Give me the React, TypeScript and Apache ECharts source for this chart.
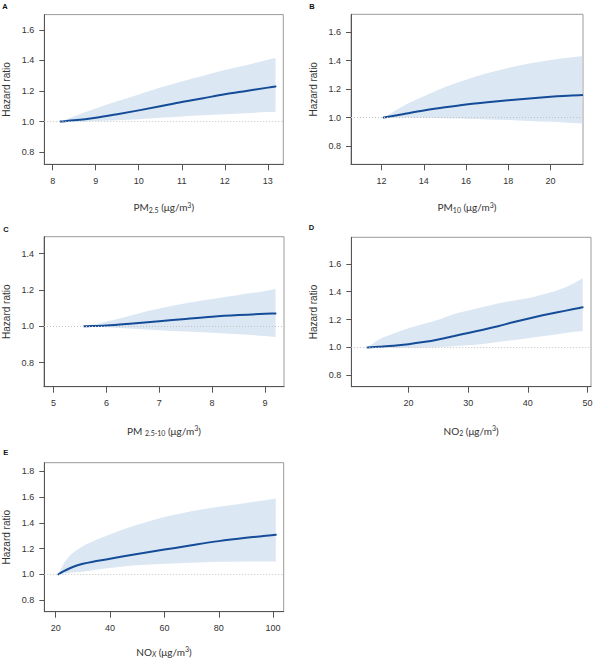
import React, { useEffect, useRef } from "react";
import * as echarts from "echarts";

// Panel A — PM2.5
const pm25X = [8.18, 8.5, 9, 9.5, 10, 10.5, 11, 11.5, 12, 12.5, 13, 13.18];
const pm25Hr = [1.0, 1.008, 1.025, 1.048, 1.073, 1.1, 1.128, 1.153, 1.178, 1.2, 1.222, 1.23];
const pm25Lo = [1.0, 1.001, 1.003, 1.008, 1.015, 1.024, 1.033, 1.041, 1.048, 1.055, 1.062, 1.064];
const pm25Hi = [1.0, 1.035, 1.085, 1.132, 1.177, 1.222, 1.262, 1.3, 1.337, 1.368, 1.405, 1.416];
const pm25XTicks = [8, 9, 10, 11, 12, 13];
const pm25YTicks = [0.8, 1.0, 1.2, 1.4, 1.6];

// Panel B — PM10
const pm10X = [12.1, 13, 14, 15, 16, 17, 18, 19, 20, 21, 21.5];
const pm10Hr = [1.0, 1.024, 1.05, 1.072, 1.092, 1.108, 1.122, 1.135, 1.146, 1.155, 1.158];
const pm10Lo = [1.0, 0.999, 0.998, 0.995, 0.991, 0.987, 0.982, 0.976, 0.97, 0.962, 0.958];
const pm10Hi = [1.0, 1.08, 1.15, 1.215, 1.267, 1.312, 1.349, 1.38, 1.406, 1.425, 1.434];
const pm10XTicks = [12, 14, 16, 18, 20];
const pm10YTicks = [0.8, 1.0, 1.2, 1.4, 1.6];

// Panel C — PM2.5-10
const pmcX = [5.58, 6, 6.5, 7, 7.5, 8, 8.5, 9, 9.2];
const pmcHr = [1.0, 1.005, 1.016, 1.028, 1.041, 1.053, 1.062, 1.069, 1.071];
const pmcLo = [1.0, 0.995, 0.987, 0.979, 0.972, 0.965, 0.957, 0.947, 0.942];
const pmcHi = [1.0, 1.025, 1.063, 1.098, 1.127, 1.15, 1.172, 1.195, 1.205];
const pmcXTicks = [5, 6, 7, 8, 9];
const pmcYTicks = [0.8, 1.0, 1.2, 1.4];

// Panel D — NO2
const no2X = [13.1, 15, 17.5, 20, 22.5, 25, 27.5, 30, 32.5, 35, 37.5, 40, 42.5, 45, 47.5, 49.2];
const no2Hr = [1.0, 1.005, 1.012, 1.023, 1.038, 1.057, 1.08, 1.104, 1.127, 1.152, 1.18, 1.206, 1.23, 1.252, 1.273, 1.288];
const no2Lo = [1.0, 0.999, 0.998, 0.998, 1.0, 1.003, 1.008, 1.015, 1.024, 1.038, 1.052, 1.066, 1.08, 1.095, 1.11, 1.118];
const no2Hi = [1.0, 1.055, 1.1, 1.137, 1.168, 1.198, 1.238, 1.265, 1.29, 1.315, 1.335, 1.352, 1.38, 1.41, 1.455, 1.497];
const no2XTicks = [20, 30, 40, 50];
const no2YTicks = [0.8, 1.0, 1.2, 1.4, 1.6];

// Panel E — NOx
const noxX = [21, 23, 25, 27.5, 30, 35, 40, 45, 50, 60, 70, 80, 90, 101];
const noxHr = [1.0, 1.025, 1.045, 1.066, 1.082, 1.103, 1.121, 1.14, 1.158, 1.192, 1.226, 1.258, 1.284, 1.308];
const noxLo = [1.0, 1.005, 1.01, 1.015, 1.02, 1.035, 1.048, 1.06, 1.07, 1.082, 1.09, 1.097, 1.1, 1.1];
const noxHi = [1.0, 1.085, 1.14, 1.185, 1.218, 1.268, 1.31, 1.35, 1.385, 1.445, 1.49, 1.525, 1.555, 1.59];
const noxXTicks = [20, 40, 60, 80, 100];
const noxYTicks = [0.8, 1.0, 1.2, 1.4, 1.6, 1.8];

const panels = [
  { letter: "A", x: pm25X, hr: pm25Hr, lo: pm25Lo, hi: pm25Hi, xTicks: pm25XTicks, yTicks: pm25YTicks,
    xName: "{t|PM}{sub|2.5}{t| (μg/m}{sup|3}{t|)}", xMin: 7.805, xMax: 13.36, yMin: 0.72, yMax: 1.7 },
  { letter: "B", x: pm10X, hr: pm10Hr, lo: pm10Lo, hi: pm10Hi, xTicks: pm10XTicks, yTicks: pm10YTicks,
    xName: "{t|PM}{sub|10}{t| (μg/m}{sup|3}{t|)}", xMin: 10.55, xMax: 21.54, yMin: 0.671, yMax: 1.727 },
  { letter: "C", x: pmcX, hr: pmcHr, lo: pmcLo, hi: pmcHi, xTicks: pmcXTicks, yTicks: pmcYTicks,
    xName: "{t|PM }{sub|2.5-10}{t| (μg/m}{sup|3}{t|)}", xMin: 4.82, xMax: 9.36, yMin: 0.668, yMax: 1.493 },
  { letter: "D", x: no2X, hr: no2Hr, lo: no2Lo, hi: no2Hi, xTicks: no2XTicks, yTicks: no2YTicks,
    xName: "{t|NO}{sub|2}{t| (μg/m}{sup|3}{t|)}", xMin: 10.4, xMax: 50.6, yMin: 0.718, yMax: 1.79 },
  { letter: "E", x: noxX, hr: noxHr, lo: noxLo, hi: noxHi, xTicks: noxXTicks, yTicks: noxYTicks,
    xName: "{t|NO}{subi|X}{t| (μg/m}{sup|3}{t|)}", xMin: 15.8, xMax: 103.9, yMin: 0.709, yMax: 1.868 },
];

// Plot frames in page pixels
const frames = [
  { left: 44.3, top: 14.6, width: 239, height: 149.7, nameGap: 37 },
  { left: 351, top: 14.3, width: 232, height: 150, nameGap: 37 },
  { left: 44, top: 236.7, width: 240, height: 150, nameGap: 38 },
  { left: 351.3, top: 237.3, width: 239.7, height: 149.4, nameGap: 38 },
  { left: 44.3, top: 462.7, width: 239.4, height: 149, nameGap: 34 },
];
const letterPos = [
  { left: 2.3, top: 2.2 },
  { left: 309.3, top: 2.2 },
  { left: 3.3, top: 225 },
  { left: 308.7, top: 223.7 },
  { left: 3.3, top: 448 },
];

const LINE = "#144c98";
const BAND = "#dce7f4";
const TEXT = "#333333";
const TICK_FONT = "Liberation Sans";
const NAME_FONT = "Lato";

const nameRich = {
  t: { fontSize: 10, fontFamily: NAME_FONT, color: TEXT, lineHeight: 12 },
  sub: { fontSize: 7, fontFamily: NAME_FONT, color: TEXT, verticalAlign: "bottom" },
  subi: { fontSize: 7, fontFamily: NAME_FONT, color: TEXT, fontStyle: "italic", verticalAlign: "bottom" },
  sup: { fontSize: 7, fontFamily: NAME_FONT, color: TEXT, verticalAlign: "top" },
};

// Cubic Hermite segments through pixel points (x ordered), returned as path commands
function hermiteSegments(pts: number[][]): string {
  const n = pts.length;
  const m: number[] = [];
  for (let i = 0; i < n; i++) {
    if (i === 0) {
      m.push((pts[1][1] - pts[0][1]) / (pts[1][0] - pts[0][0]));
    } else if (i === n - 1) {
      m.push((pts[n - 1][1] - pts[n - 2][1]) / (pts[n - 1][0] - pts[n - 2][0]));
    } else {
      const h0 = pts[i][0] - pts[i - 1][0];
      const h1 = pts[i + 1][0] - pts[i][0];
      const d0 = (pts[i][1] - pts[i - 1][1]) / h0;
      const d1 = (pts[i + 1][1] - pts[i][1]) / h1;
      m.push((d0 * h1 + d1 * h0) / (h0 + h1));
    }
  }
  let d = "";
  for (let i = 0; i < n - 1; i++) {
    const [x0, y0] = pts[i];
    const [x1, y1] = pts[i + 1];
    const h = x1 - x0;
    d += ` C ${x0 + h / 3} ${y0 + (m[i] * h) / 3} ${x1 - h / 3} ${y1 - (m[i + 1] * h) / 3} ${x1} ${y1}`;
  }
  return d;
}

function buildOption() {
  const grid = frames.map((f) => ({
    left: f.left,
    top: f.top,
    width: f.width,
    height: f.height,
    show: true,
    borderColor: "#9a9a9a",
    borderWidth: 1,
    backgroundColor: "transparent",
    containLabel: false,
    outerBoundsMode: "none",
  }));

  const xAxis = panels.map((p, i) => ({
    type: "value",
    gridIndex: i,
    min: p.xMin,
    max: p.xMax,
    splitLine: { show: false },
    axisLine: { show: true, onZero: false, lineStyle: { color: "#555", width: 1 } },
    axisTick: { show: true, inside: false, length: 6, customValues: p.xTicks, lineStyle: { color: "#555" } },
    axisLabel: { customValues: p.xTicks, margin: 12, fontSize: 9, color: TEXT, fontFamily: TICK_FONT },
    name: p.xName,
    nameLocation: "middle",
    nameGap: frames[i].nameGap,
    nameTextStyle: { rich: nameRich },
  }));

  const yAxis = panels.map((p, i) => ({
    type: "value",
    gridIndex: i,
    min: p.yMin,
    max: p.yMax,
    splitLine: { show: false },
    axisLine: { show: true, onZero: false, lineStyle: { color: "#555", width: 1 } },
    axisTick: { show: true, inside: false, length: 5, customValues: p.yTicks, lineStyle: { color: "#555" } },
    axisLabel: {
      customValues: p.yTicks,
      margin: 10,
      fontSize: 9,
      color: TEXT,
      fontFamily: TICK_FONT,
      formatter: (v: number) => v.toFixed(1),
    },
    name: "Hazard ratio",
    nameLocation: "middle",
    nameGap: 33,
    nameTextStyle: { fontSize: 10, fontFamily: TICK_FONT, color: TEXT },
  }));

  const series: any[] = [];
  panels.forEach((p, i) => {
    // confidence band: upper edge forward, lower edge back, closed
    series.push({
      type: "custom",
      xAxisIndex: i,
      yAxisIndex: i,
      silent: true,
      z: 1,
      data: p.x.map((x, k) => [x, p.lo[k], p.hi[k]]),
      encode: { x: 0, y: [1, 2] },
      renderItem: (params: any, api: any) => {
        if (params.dataIndex !== 0) return null;
        const upper = p.x.map((x, k) => api.coord([x, p.hi[k]]));
        const lower = p.x.map((x, k) => api.coord([x, p.lo[k]])).reverse();
        const d =
          `M ${upper[0][0]} ${upper[0][1]}` +
          hermiteSegments(upper) +
          ` L ${lower[0][0]} ${lower[0][1]}` +
          hermiteSegments(lower) +
          " Z";
        return {
          type: "path",
          shape: { pathData: d },
          style: { fill: BAND, stroke: "none" },
        };
      },
    });
    // reference line at HR = 1
    series.push({
      type: "line",
      xAxisIndex: i,
      yAxisIndex: i,
      z: 2,
      data: [],
      markLine: {
        silent: true,
        symbol: ["none", "none"],
        label: { show: false },
        lineStyle: { color: "#c2c2c2", type: [1, 2], width: 1 },
        data: [{ yAxis: 1 }],
      },
    });
    // hazard ratio curve
    series.push({
      type: "custom",
      xAxisIndex: i,
      yAxisIndex: i,
      silent: true,
      z: 3,
      data: p.x.map((x, k) => [x, p.hr[k]]),
      encode: { x: 0, y: 1 },
      renderItem: (params: any, api: any) => {
        if (params.dataIndex !== 0) return null;
        const pts = p.x.map((x, k) => api.coord([x, p.hr[k]]));
        const d = `M ${pts[0][0]} ${pts[0][1]}` + hermiteSegments(pts);
        return {
          type: "path",
          shape: { pathData: d },
          style: { fill: "none", stroke: LINE, lineWidth: 2, lineCap: "round" },
        };
      },
    });
  });

  const graphic = panels.map((p, i) => ({
    type: "text",
    left: letterPos[i].left,
    top: letterPos[i].top,
    style: { text: p.letter, fontSize: 7.5, fontWeight: "bold", fontFamily: TICK_FONT, fill: "#111" },
  }));

  return {
    animation: false,
    backgroundColor: "#ffffff",
    grid,
    xAxis,
    yAxis,
    series,
    graphic,
  };
}

export default function App() {
  const ref = useRef<HTMLDivElement>(null);
  useEffect(() => {
    if (!ref.current) return;
    const chart = echarts.init(ref.current, undefined, { renderer: "svg" });
    chart.setOption(buildOption() as any);
    return () => chart.dispose();
  }, []);
  return (
    <div
      ref={ref}
      style={{ position: "fixed", left: 0, top: 0, width: 594, height: 660, background: "#fff" }}
    />
  );
}
